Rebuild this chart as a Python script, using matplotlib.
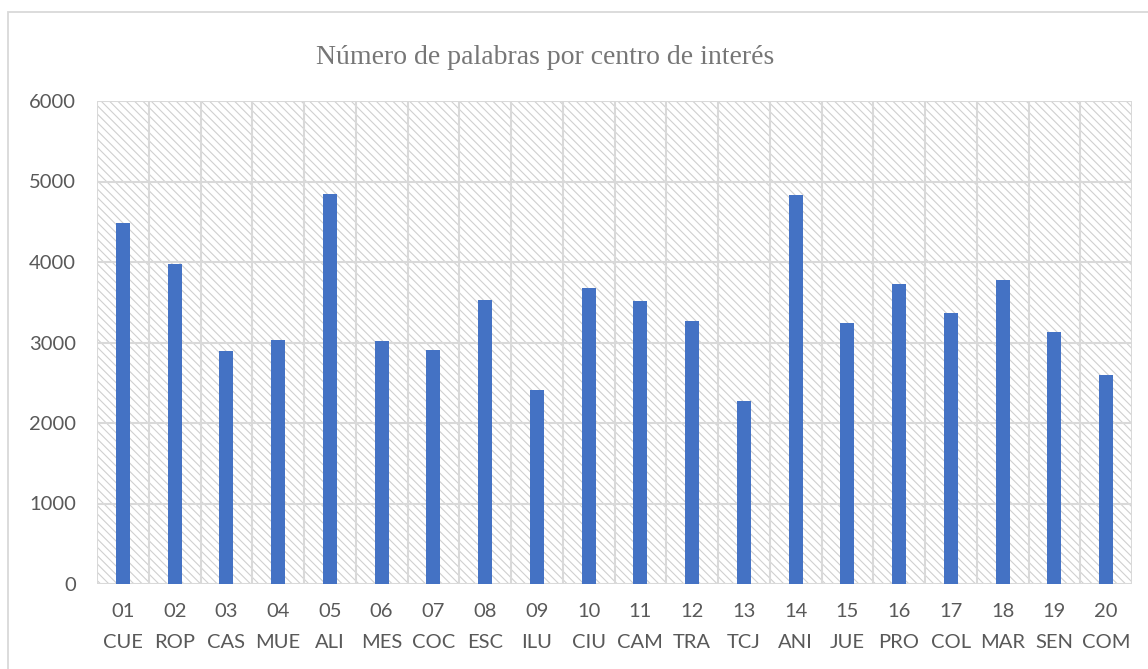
import matplotlib
matplotlib.use("Agg")
import matplotlib.pyplot as plt
import matplotlib.patches as patches

codes = ["01", "02", "03", "04", "05", "06", "07", "08", "09", "10",
         "11", "12", "13", "14", "15", "16", "17", "18", "19", "20"]
names = ["CUE", "ROP", "CAS", "MUE", "ALI", "MES", "COC", "ESC", "ILU", "CIU",
         "CAM", "TRA", "TCJ", "ANI", "JUE", "PRO", "COL", "MAR", "SEN", "COM"]
palabras = [4490, 3980, 2900, 3025, 4846, 3020, 2913, 3525, 2404, 3682,
            3521, 3268, 2268, 4830, 3243, 3723, 3372, 3777, 3136, 2601]
yticks = [0, 1000, 2000, 3000, 4000, 5000, 6000]
title = "Número de palabras por centro de interés"

plt.rcParams['hatch.linewidth'] = 0.8
plt.rcParams['hatch.color'] = '#d0d0d0'

W, H = 1148, 669
fig = plt.figure(figsize=(W / 100, H / 100), dpi=100)
fig.patch.set_facecolor('white')

# chart area border (cut off at the right and bottom)
border = patches.Rectangle((8 / W, -0.1), 1.2, 1 - 12 / H + 0.1, transform=fig.transFigure,
                           fill=False, edgecolor='#d9d9d9', linewidth=1.3)
fig.patches.append(border)

ax = fig.add_axes([97 / W, 1 - 584 / H, (1132 - 97) / W, (584 - 101) / H])
ax.set_facecolor('white')

n = len(palabras)
ax.set_xlim(-0.5, n - 0.5)
ax.set_ylim(0, 6000)

# hatched background
bg = patches.Rectangle((0, 0), 1, 1, transform=ax.transAxes, facecolor='white',
                       edgecolor='#d0d0d0', hatch='\\\\\\\\', linewidth=0, zorder=0)
ax.add_patch(bg)

# gridlines
for v in yticks:
    ax.axhline(v, color='#d9d9d9', linewidth=1.5, zorder=1)
for i in range(n + 1):
    ax.axvline(i - 0.5, color='#d9d9d9', linewidth=1.5, zorder=1)

ax.bar(range(n), palabras, width=0.27, color='#4472c4', zorder=2)

for s in ax.spines.values():
    s.set_visible(False)

ax.set_yticks(yticks)
ax.set_yticklabels([str(v) for v in yticks], fontsize=14.5, color='#595959', family='Lato')
ax.set_xticks(range(n))
ax.set_xticklabels([c + "\n" + nm for c, nm in zip(codes, names)], fontsize=14.5,
                   color='#595959', family='Lato', linespacing=2.0)
ax.tick_params(axis='y', length=0, pad=15)
ax.tick_params(axis='x', length=0, pad=14)

fig.text(545 / W, 1 - 58 / H, title, ha='center', va='center', fontsize=20,
         color='#767676', family='Liberation Serif')

fig.savefig('out.png', dpi=100)
